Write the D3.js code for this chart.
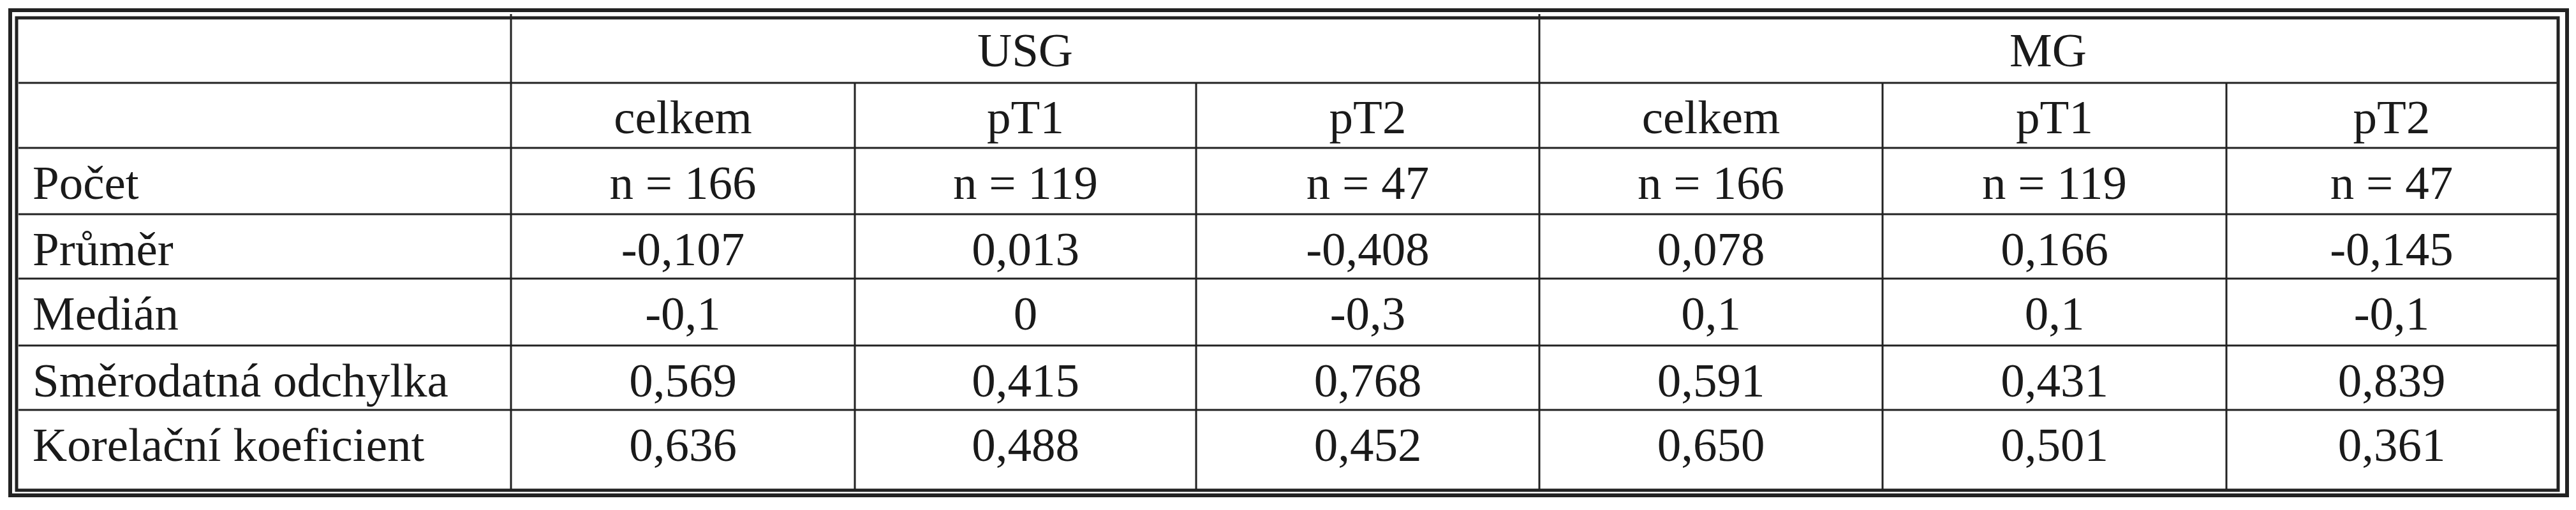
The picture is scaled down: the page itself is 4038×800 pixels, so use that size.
<!DOCTYPE html>
<html>
<head>
<meta charset="utf-8">
<script src="https://cdn.jsdelivr.net/npm/d3@7"></script>
<style>
  body { margin: 0; background: #fff; }
  text { font-family: "Liberation Serif", "Times New Roman", Tinos, "DejaVu Serif Condensed", "DejaVu Serif", serif; fill: #1a1a1a; }
</style>
</head>
<body>
<script>
// table content
const groups = ["USG", "MG"];
const subCols = ["celkem", "pT1", "pT2", "celkem", "pT1", "pT2"];
const rowLabels = ["Počet", "Průměr", "Medián", "Směrodatná odchylka", "Korelační koeficient"];
const pocet = ["n = 166", "n = 119", "n = 47", "n = 166", "n = 119", "n = 47"];
const prumer = ["-0,107", "0,013", "-0,408", "0,078", "0,166", "-0,145"];
const median = ["-0,1", "0", "-0,3", "0,1", "0,1", "-0,1"];
const odchylka = ["0,569", "0,415", "0,768", "0,591", "0,431", "0,839"];
const korelace = ["0,636", "0,488", "0,452", "0,650", "0,501", "0,361"];
const bodyRows = [pocet, prumer, median, odchylka, korelace];

const W = 4038, H = 800;
const svg = d3.select("body").append("svg").attr("width", W).attr("height", H);

// column edges and row edges (pixels)
const colEdges = [29, 801, 1340, 1875, 2413, 2951, 3490, 4008];
const rowEdges = [31, 130, 232, 336, 437, 542, 643, 768];
const ink = "#222";

// double frame
svg.append("rect").attr("x", 16).attr("y", 16).attr("width", 4024 - 16).attr("height", 777 - 16)
  .attr("fill", "none").attr("stroke", ink).attr("stroke-width", 6);
svg.append("rect").attr("x", 26).attr("y", 28).attr("width", 4010 - 26).attr("height", 769 - 28)
  .attr("fill", "none").attr("stroke", ink).attr("stroke-width", 5);

const g = svg.append("g");

// horizontal rules
g.selectAll("line.h").data(rowEdges.slice(1, -1)).join("line")
  .attr("x1", colEdges[0]).attr("x2", colEdges[7])
  .attr("y1", d => d).attr("y2", d => d)
  .attr("stroke", ink).attr("stroke-width", 3);

// vertical rules: first divider and group divider run full height, others from row 2
const vlines = colEdges.slice(1, -1).map((x, i) => ({ x, full: i === 0 || i === 3 }));
g.selectAll("line.v").data(vlines).join("line")
  .attr("x1", d => d.x).attr("x2", d => d.x)
  .attr("y1", d => d.full ? 22 : rowEdges[1]).attr("y2", rowEdges[7])
  .attr("stroke", ink).attr("stroke-width", 3);

const fs = 75;
// group headers
g.selectAll("text.grp").data(groups).join("text")
  .attr("x", (d, i) => (colEdges[1 + i * 3] + colEdges[4 + i * 3]) / 2)
  .attr("y", 104).attr("text-anchor", "middle").attr("font-size", fs).text(d => d);

// sub headers
g.selectAll("text.sub").data(subCols).join("text")
  .attr("x", (d, i) => (colEdges[1 + i] + colEdges[2 + i]) / 2)
  .attr("y", rowEdges[1] + 79).attr("text-anchor", "middle").attr("font-size", fs).text(d => d);

// body
bodyRows.forEach((vals, r) => {
  const top = rowEdges[2 + r];
  g.append("text").attr("x", 51).attr("y", top + 80).attr("font-size", fs).text(rowLabels[r]);
  g.selectAll(null).data(vals).join("text")
    .attr("x", (d, i) => (colEdges[1 + i] + colEdges[2 + i]) / 2)
    .attr("y", top + 80).attr("text-anchor", "middle").attr("font-size", fs).text(d => d);
});
</script>
</body>
</html>
